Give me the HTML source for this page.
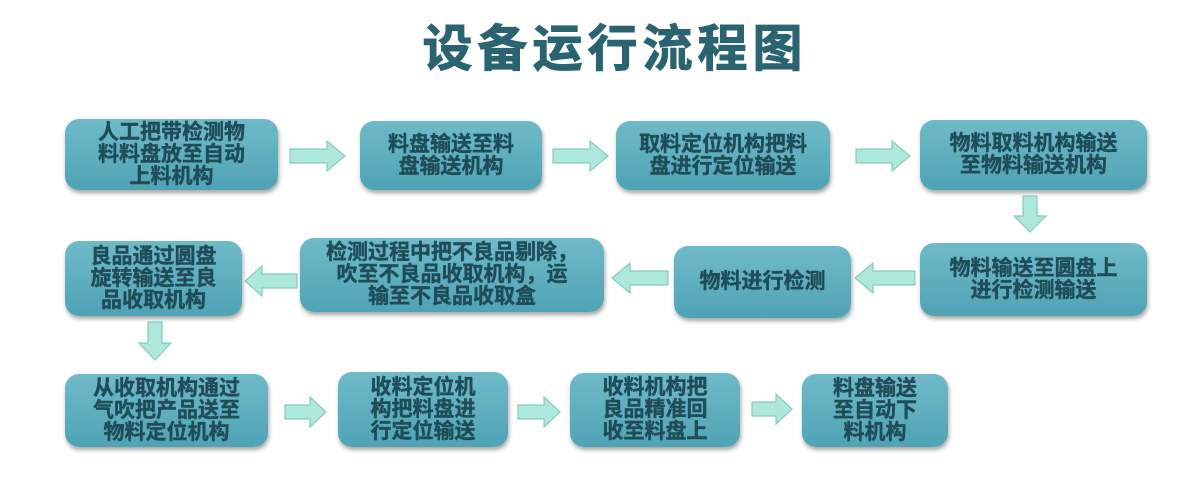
<!DOCTYPE html>
<html><head><meta charset="utf-8"><style>
html,body{margin:0;padding:0;background:#fff;}
body{width:1200px;height:483px;position:relative;overflow:hidden;font-family:"Liberation Sans","Noto Sans CJK SC",sans-serif;}
.t{position:absolute;left:0;width:1200px;top:20px;text-align:center;font-size:50px;font-weight:bold;color:#2a6470;letter-spacing:5px;line-height:58px;padding-left:30px;box-sizing:border-box;-webkit-text-stroke:1px #2a6470;}
.b{position:absolute;border-radius:14px;background:linear-gradient(#6fbac9,#4fa3b5);box-shadow:1px 3px 4px rgba(0,0,0,0.35);display:flex;align-items:center;justify-content:center;text-align:center;font-weight:bold;font-size:21px;line-height:22px;color:#1f4c57;box-sizing:border-box;padding:0 4px;white-space:nowrap;-webkit-text-stroke:0.4px #1f4c57;}
svg{position:absolute;left:0;top:0;}
</style></head><body>
<div class="t">设备运行流程图</div>
<div class="b" style="left:65px;top:119px;width:213px;height:71px;">人工把带检测物<br>料料盘放至自动<br>上料机构</div>
<div class="b" style="left:360px;top:121px;width:182px;height:69px;">料盘输送至料<br>盘输送机构</div>
<div class="b" style="left:616px;top:121px;width:214px;height:69px;">取料定位机构把料<br>盘进行定位输送</div>
<div class="b" style="left:920px;top:120px;width:227px;height:70px;">物料取料机构输送<br>至物料输送机构</div>
<div class="b" style="left:920px;top:243px;width:227px;height:73px;">物料输送至圆盘上<br>进行检测输送</div>
<div class="b" style="left:674px;top:246px;width:177px;height:72px;">物料进行检测</div>
<div class="b" style="left:300px;top:238px;width:304px;height:74px;">检测过程中把不良品剔除，<br>吹至不良品收取机构，运<br>输至不良品收取盒</div>
<div class="b" style="left:65px;top:241px;width:177px;height:75px;">良品通过圆盘<br>旋转输送至良<br>品收取机构</div>
<div class="b" style="left:65px;top:374px;width:203px;height:73px;">从收取机构通过<br>气吹把产品送至<br>物料定位机构</div>
<div class="b" style="left:338px;top:372px;width:170px;height:75px;">收料定位机<br>构把料盘进<br>行定位输送</div>
<div class="b" style="left:570px;top:373px;width:170px;height:74px;">收料机构把<br>良品精准回<br>收至料盘上</div>
<div class="b" style="left:802px;top:374px;width:146px;height:73px;">料盘输送<br>至自动下<br>料机构</div>
<svg width="1200" height="483">
<g fill="#aee8dc" stroke="#86cbbd" stroke-width="1.2">
<polygon points="290,149 327,149 327,141 345,156 327,171 327,163 290,163"/>
<polygon points="553,149 590,149 590,141 608,156 590,171 590,163 553,163"/>
<polygon points="856,149 892,149 892,141 910,156 892,171 892,163 856,163"/>
<polygon points="285,405 310,405 310,397 326,412 310,427 310,419 285,419"/>
<polygon points="518,405 544,405 544,397 560,412 544,427 544,419 518,419"/>
<polygon points="752,402 776,402 776,394 792,409 776,424 776,416 752,416"/>
<polygon points="915,271 873,271 873,263 855,278 873,293 873,285 915,285"/>
<polygon points="668,271 630,271 630,263 612,278 630,293 630,285 668,285"/>
<polygon points="297,274 262,274 262,266 245,281 262,296 262,288 297,288"/>
<polygon points="1023,196 1037,196 1037,216 1046,216 1030,232 1014,216 1023,216"/>
<polygon points="148,322 162,322 162,343 171,343 155,360 139,343 148,343"/>
</g>
</svg>
</body></html>
